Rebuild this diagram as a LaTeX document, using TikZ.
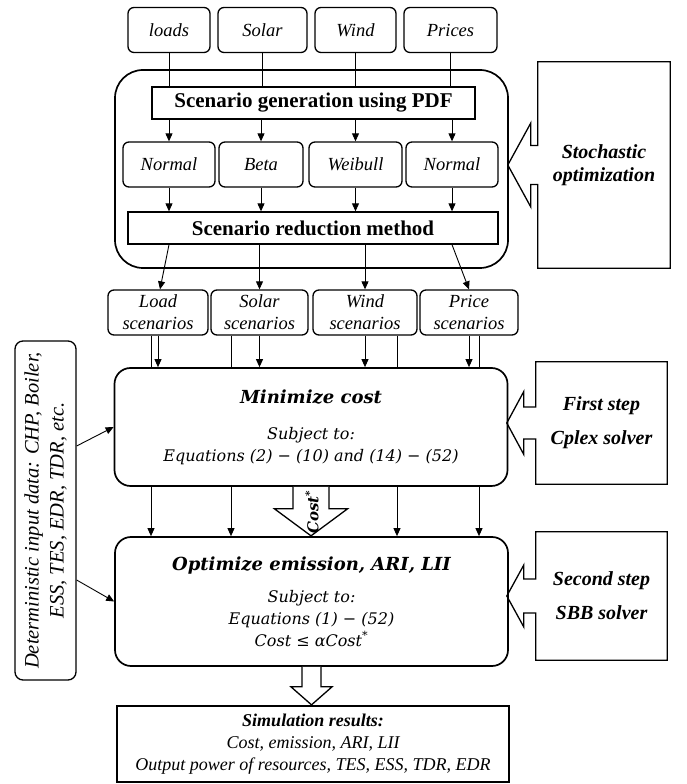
\documentclass[tikz,border=0pt]{standalone}
\usepackage{fontspec}
\setmainfont{Liberation Serif}
\newfontfamily\cambria{DejaVu Serif}
\usetikzlibrary{positioning,arrows.meta,calc,backgrounds}
\tikzset{
  inbox/.style={draw, line width=1.3pt, rounded corners=6pt, minimum height=45pt, align=center, inner sep=2pt, font=\fontsize{18.5}{22}\selectfont\itshape},
  band/.style={draw, line width=1.3pt, minimum height=32pt, font=\fontsize{21}{24}\selectfont\bfseries},
  stage/.style={draw, line width=1.7pt, rounded corners=16pt, fill=white, minimum width=393pt, align=center, font=\cambria\fontsize{16}{22}\selectfont\itshape},
  tag/.style={align=center, font=\fontsize{20}{23}\selectfont\bfseries\itshape},
  arr/.style={-{Triangle[length=8pt,width=7pt]}, line width=0.9pt},
  link/.style={line width=0.9pt}
}
\newcommand{\notchbox}[5]{% #1 node, #2 shaft half, #3 head half, #4 shaft length, #5 tip offset
  \draw[line width=1.3pt] (#1.north west) -- ($(#1.west)+(0,#2)$) -- ($(#1.west)+(-#4,#2)$)
    -- ($(#1.west)+(-#4,#3)$) -- ($(#1.west)+(-#5,0)$) -- ($(#1.west)+(-#4,-#3)$)
    -- ($(#1.west)+(-#4,-#2)$) -- ($(#1.west)+(0,-#2)$) -- (#1.south west)
    -- (#1.south east) -- (#1.north east) -- cycle;}
\newcommand{\blockarrow}[5]{% #1 start, #2 shaft half, #3 head half, #4 shaft length, #5 total length
  \draw[line width=1.3pt, fill=white] ($#1+(-#2,0)$) -- ($#1+(-#2,-#4)$) -- ($#1+(-#3,-#4)$)
    -- ($#1+(0,-#5)$) -- ($#1+(#3,-#4)$) -- ($#1+(#2,-#4)$) -- ($#1+(#2,0)$);}
\begin{document}
\begin{tikzpicture}[x=1pt, y=1pt]
  \useasboundingbox (0,0) rectangle (686,784);
  % input data
  \node[inbox, minimum width=82pt] (loads) at (169,754) {loads};
  \node[inbox, minimum width=89pt] (solar) at (262.5,754) {Solar};
  \node[inbox, minimum width=81pt] (wind) at (355.5,754) {Wind};
  \node[inbox, minimum width=93pt] (prices) at (450.5,754) {Prices};
  % stochastic part
  \node[draw, line width=1.7pt, rounded corners=28pt, minimum width=393pt, minimum height=198pt] (frame) at (311.5,615) {};
  \node[band, minimum width=323pt] (gen) at (313.5,681) {Scenario generation using PDF};
  \node[inbox, minimum width=92pt] (normA) at (169,619.5) {Normal};
  \node[inbox, minimum width=84pt] (beta) at (261,619.5) {Beta};
  \node[inbox, minimum width=93pt] (weib) at (355.5,619.5) {Weibull};
  \node[inbox, minimum width=92pt] (normB) at (452,619.5) {Normal};
  \node[band, minimum width=370pt] (red) at (313,556) {Scenario reduction method};
  \foreach \src in {loads,solar,wind,prices} \draw[link] (\src.south) -- (\src.south |- gen.north);
  \foreach \dst in {normA,beta,weib,normB} {
    \draw[arr] (gen.south -| \dst) -- (\dst.north);
    \draw[arr] (\dst.south) -- (\dst.south |- red.north);
  }
  % scenarios
  \node[inbox, minimum width=100pt] (loadsc) at (158,471.5) {Load\\scenarios};
  \node[inbox, minimum width=97pt] (solarsc) at (259.5,471.5) {Solar\\scenarios};
  \node[inbox, minimum width=104pt] (windsc) at (365,471.5) {Wind\\scenarios};
  \node[inbox, minimum width=98pt] (pricesc) at (469,471.5) {Price\\scenarios};
  \draw[arr] (red.south -| normA) -- ([xshift=2pt]loadsc.north);
  \draw[arr] (red.south -| solarsc) -- (solarsc.north);
  \draw[arr] (red.south -| windsc) -- (windsc.north);
  \draw[arr] (red.south -| normB) -- (pricesc.north);
  % optimization stages
  \node[stage, minimum height=118pt] (mincost) at (311,357)
    {{\fontsize{18}{22}\selectfont\bfseries Minimize cost}\\[14pt] Subject to:\\ Equations (2) − (10) and (14) − (52)};
  \node[stage, minimum height=129pt] (optem) at (311.5,182.5)
    {{\fontsize{18}{22}\selectfont\bfseries Optimize emission, ARI, LII}\\[10pt] Subject to:\\ Equations (1) − (52)\\ Cost ≤ αCost\textsuperscript{*}};
  \foreach \sc in {loadsc,solarsc,windsc,pricesc} \draw[arr] (\sc.south) -- (\sc.south |- mincost.north);
  \begin{scope}[on background layer]
    \foreach \sc/\dx in {loadsc/-7,solarsc/-28.5,windsc/32,pricesc/10}
      \draw[arr] ([xshift=\dx pt]\sc.south) -- ([xshift=\dx pt]\sc.south |- optem.north);
  \end{scope}
  \blockarrow{(mincost.south)}{18}{36.5}{22}{49}
  \node[rotate=90, inner sep=0pt, font=\cambria\fontsize{15}{15}\selectfont\bfseries\itshape] (costlbl) at ($(mincost.south)+(1,-25)$) {Cost\textsuperscript{*}};
  % deterministic input
  \node[draw, line width=1.3pt, rounded corners=8pt, rotate=90, minimum width=339pt, minimum height=61pt, align=center, inner sep=2pt, font=\fontsize{20.5}{25}\selectfont\itshape] (detin) at (45.5,273.5)
    {Deterministic input data: CHP, Boiler,\\ ESS, TES, EDR, TDR, etc.};
  \draw[arr] ($(detin.south)+(0,64.5)$) -- (mincost.west);
  \draw[arr] ($(detin.south)+(0,-69.5)$) -- (optem.west);
  % solver notes
  \node[tag, minimum width=132pt, minimum height=206pt] (stoch) at (604,619) {Stochastic\\optimization};
  \notchbox{stoch}{19.5}{42}{7}{30}
  \node[tag, minimum width=131pt, minimum height=122pt, font=\fontsize{20}{34}\selectfont\bfseries\itshape] (first) at (601.5,361) {First step\\Cplex solver};
  \notchbox{first}{16}{31.5}{12}{29}
  \node[tag, minimum width=131pt, minimum height=128pt, font=\fontsize{20}{34}\selectfont\bfseries\itshape] (second) at (601.5,188) {Second step\\SBB solver};
  \notchbox{second}{17}{31}{12}{29}
  % results
  \blockarrow{(optem.south)}{9.5}{20.5}{20}{38}
  \node[draw, line width=1.3pt, minimum width=392pt, minimum height=76pt, align=center, font=\fontsize{18}{22}\selectfont\itshape] (simres) at (313,40)
    {{\bfseries Simulation results:}\\ Cost, emission, ARI, LII\\ Output power of resources, TES, ESS, TDR, EDR};
\end{tikzpicture}
\end{document}
